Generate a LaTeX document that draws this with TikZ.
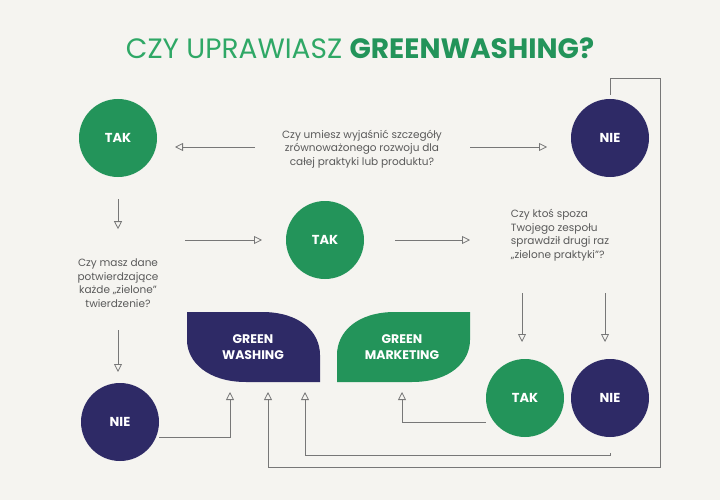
\documentclass[tikz,border=0pt]{standalone}
\usepackage{fontspec}
\setmainfont{Poppins}
\usetikzlibrary{arrows.meta}
\definecolor{navy}{HTML}{2E2A66}
\definecolor{grn}{HTML}{23945A}
\definecolor{lgrn}{HTML}{2FA866}
\definecolor{bg}{HTML}{F5F4F0}
\definecolor{txt}{HTML}{5A5A5A}
\definecolor{ln}{HTML}{777777}
\begin{document}
\begin{tikzpicture}[x=1pt,y=-1pt,
  circ/.style={circle,minimum size=78pt,inner sep=0pt,text=white,font=\bfseries\fontsize{13}{13}\selectfont},
  tak/.style={circ,fill=grn},
  nie/.style={circ,fill=navy},
  q/.style={text=txt,font=\fontsize{10.5}{13.5}\selectfont,align=left},
  conn/.style={draw=ln,line width=0.8pt,-{Triangle[open,length=8pt,width=8pt]}},
  wire/.style={draw=ln,line width=0.8pt}]
\fill[bg] (0,0) rectangle (720,500);
\useasboundingbox (0,0) rectangle (720,500);
\node[font=\fontsize{28}{30}\selectfont] (title) at (360,48) {\textcolor{lgrn}{CZY UPRAWIASZ} \textcolor{grn}{\bfseries GREENWASHING?}};
\node[tak] (t1) at (118,138) {TAK};
\node[nie] (n1) at (610,138) {NIE};
\node[tak] (t2) at (325,240) {TAK};
\node[tak] (t3) at (525,398) {TAK};
\node[nie] (n3) at (610,398) {NIE};
\node[nie] (n2) at (120,422) {NIE};
\node[q,align=center] (q1) at (362,149) {Czy umiesz wyjaśnić szczegóły\\zrównoważonego rozwoju dla\\całej praktyki lub produktu?};
\node[q,align=center] (q2) at (118,283) {Czy masz dane\\potwierdzające\\każde „zielone”\\twierdzenie?};
\node[q] (q3) at (560,235) {Czy ktoś spoza\\Twojego zespołu\\sprawdził drugi raz\\„zielone praktyki”?};
% leaves
\fill[navy] (187,312) -- (262,312) .. controls (300,312) and (320,332) .. (320,355) -- (320,382) -- (246,382) .. controls (208,382) and (187,362) .. (187,340) -- cycle;
\node[text=white,font=\bfseries\fontsize{12.5}{16}\selectfont,align=center] (gw) at (253,347) {GREEN\\WASHING};
\fill[grn] (337,382) -- (337,355) .. controls (337,332) and (357,312) .. (395,312) -- (470,312) -- (470,340) .. controls (470,362) and (450,382) .. (412,382) -- cycle;
\node[text=white,font=\bfseries\fontsize{12.5}{16}\selectfont,align=center] (gm) at (402,347) {GREEN\\MARKETING};
\coordinate (gwb) at (253,382);
% arrows
\coordinate (a1) at (255,147); \coordinate (a2) at (175,147);
\draw[conn] (a1) -- (a2);
\coordinate (a3) at (470,147); \coordinate (a4) at (547,147);
\draw[conn] (a3) -- (a4);
\draw[conn] (t1.south) ++(0,22) -- ++(0,30);
\coordinate (b1) at (185,240); \coordinate (b2) at (262,240);
\draw[conn] (b1) -- (b2);
\coordinate (b3) at (395,240); \coordinate (b4) at (470,240);
\draw[conn] (b3) -- (b4);
\coordinate (c1) at (118,330); \coordinate (c2) at (118,372);
\draw[conn] (c1) -- (c2);
\coordinate (d1) at (522,293); \coordinate (d2) at (522,342);
\draw[conn] (d1) -- (d2);
\coordinate (e1) at (605,293); \coordinate (e2) at (605,342);
\draw[conn] (e1) -- (e2);
% returns
\draw[conn] (n2.east) ++(0,15) -| (230,392);
\draw[conn] (t3.west) ++(0,24) -| (402,392);
\draw[conn] (n3.south) ++(0,16) |- (305,455) -- (305,392);
\draw[conn] (n1.north) ++(0,-4) |- (660,78) |- (268,467) -- (268,392);
\end{tikzpicture}
\end{document}
